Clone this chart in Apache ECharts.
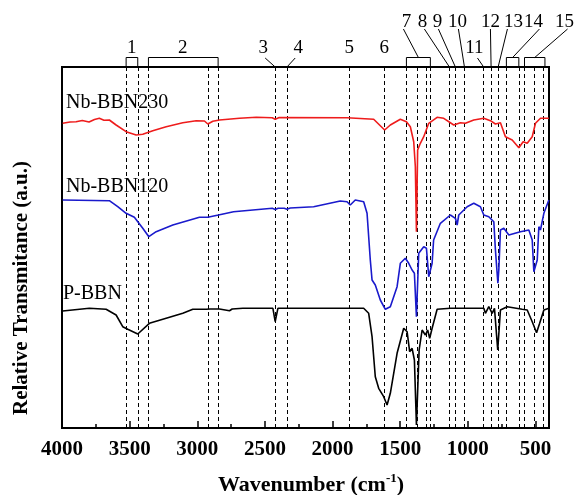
<!DOCTYPE html>
<html><head><meta charset="utf-8">
<script src="https://cdn.jsdelivr.net/npm/echarts@6/dist/echarts.min.js"></script>
<style>html,body{margin:0;padding:0;background:#fff}#c{width:582px;height:495px}</style>
</head><body><div id="c"></div>
<script>
// ---------- DATA ----------
const xTickLabels = [4000, 3500, 3000, 2500, 2000, 1500, 1000, 500];
const xMinorTicks = [3750, 3250, 2750, 2250, 1750, 1250, 750];
const seriesNames = ['Nb-BBN230', 'Nb-BBN120', 'P-BBN'];
const seriesColors = ['#ee1c1c', '#1a1acc', '#000000'];

// [wavenumber (cm-1), relative transmittance (a.u., offset curves)]
const nb230 = [[3995,304.7],[3940,306],[3896,306.3],[3850,307.5],[3800,306],[3760,308.5],[3724,309.7],[3690,307.8],[3650,308],[3600,303],[3526,296.3],[3452,293],[3403,293.7],[3329,297.3],[3230,301.3],[3107,305.3],[3008,307.3],[2947,307],[2922,304],[2885,306.7],[2836,308],[2688,309.7],[2564,310.7],[2446,310.3],[2424,308.7],[2394,310.5],[1893,310.3],[1696,308.7],[1615,298],[1573,303],[1499,308.7],[1454,306.3],[1425,301.3],[1400,286.3],[1388,261.3],[1380,196.3],[1371,278],[1351,284.7],[1326,291.3],[1289,304.7],[1227,310.7],[1178,309.7],[1104,303],[1055,305.3],[1018,304.7],[956,308],[882,309.7],[833,307.3],[796,304],[759,305.3],[722,291.3],[672,288],[623,280.3],[591,286.3],[561,284.7],[524,291.3],[500,304.7],[463,309.7],[401,309.7]];
const nb120 = [[3995,228],[3650,227.3],[3588,221.3],[3526,214.7],[3465,210.7],[3403,199.7],[3358,191.3],[3304,196.3],[3181,203],[2984,210.7],[2922,210.7],[2905,211.3],[2843,213],[2732,216.3],[2446,219.7],[2424,218.5],[2402,219.7],[2357,219.7],[2337,218.7],[2313,220],[2140,221.3],[1943,227],[1893,226.3],[1869,223],[1832,228],[1770,226.3],[1745,214.7],[1721,168],[1708,148],[1684,143],[1647,128],[1610,118.7],[1573,121.3],[1523,141.3],[1499,164.7],[1462,169.7],[1437,164.7],[1412,158],[1395,154.7],[1380,111.3],[1363,174.7],[1326,181.3],[1306,179.7],[1289,151.3],[1264,164.7],[1253,188],[1203,204.7],[1129,213],[1092,209.7],[1079,203],[1067,213],[1005,221.3],[956,224.7],[907,221.3],[882,213],[845,211.3],[808,206.3],[796,178],[778,144.7],[771,158],[759,198],[734,199.7],[697,193],[611,196.3],[549,198],[524,188],[512,156.3],[487,168],[475,201.3],[463,198],[438,214.7],[401,228]];
const pbbn = [[3995,117],[3798,119.7],[3674,118.7],[3600,113],[3551,101.3],[3514,98.7],[3440,94],[3354,104.7],[3230,109.7],[3107,114.7],[3033,118.7],[2934,118.7],[2922,117.3],[2905,119],[2836,119],[2762,117.3],[2742,119],[2663,119.7],[2441,119.7],[2424,106.3],[2404,119.7],[1898,119.7],[1770,119.7],[1733,114.7],[1708,91.3],[1684,51.3],[1659,39.7],[1622,31.3],[1597,23],[1573,34.7],[1523,74.7],[1474,99.7],[1449,96.3],[1430,76.3],[1412,79.7],[1395,68],[1380,3],[1360,78],[1338,98],[1314,93],[1297,98],[1282,89.7],[1264,99.7],[1227,118.7],[1129,119.7],[882,119.7],[870,114.7],[845,121.3],[820,114.7],[803,119.7],[779,78],[759,118],[709,121.3],[598,118.7],[561,118],[524,106.3],[492,95.3],[469,104.7],[438,118],[401,119.7]];

// dashed reference lines (cm-1)
const peakLines = [3526,3440,3361,2922,2846,2424,2337,1874,1615,1454,1375,1306,1277,1136,1092,1025,883,828,776,715,623,581,507,446];
// numbered peak groups: [from, to] (single line when equal)
const peakNumbers = ['1','2','3','4','5','6','7','8','9','10','11','12','13','14','15'];
const peakGroups = [[3526,3440],[3361,2846],[2424,2424],[2337,2337],[1874,1874],[1615,1615],[1454,1277],[1136,1136],[1092,1092],[1025,1025],[883,883],[828,828],[776,776],[715,623],[581,430]];

// ---------- LAYOUT (annotation label placement) ----------
const labelLayout = [
  {wn:3484,row:0,lead:null},{wn:3108,row:0,lead:null},{wn:2513,row:0,lead:2},{wn:2254,row:0,lead:-3},
  {wn:1876,row:0,lead:null},{wn:1617,row:0,lead:null},{wn:1454,row:1,lead:-3},{wn:1336,row:1,lead:2},
  {wn:1225,row:1,lead:1},{wn:1077,row:1,lead:1},{wn:951,row:0,lead:3},{wn:833,row:1,lead:0},
  {wn:663,row:1,lead:-6},{wn:515,row:1,lead:6},{wn:285,row:1,lead:3}
];

const YMAX = 361;
const serif = '"Liberation Serif","Times New Roman",serif';
const chart = echarts.init(document.getElementById('c'), null, {renderer:'canvas'});

function renderAnno(params, api) {
  const i = api.value(2);
  const a = api.coord([api.value(0), YMAX]);
  const b = api.coord([api.value(1), YMAX]);
  const top = a[1];
  const boxTop = top - 9.5;
  const lay = labelLayout[i];
  const lx = api.coord([lay.wn, YMAX])[0];
  const ly = lay.row === 0 ? top - 19 : top - 45;
  const children = [];
  const isBox = api.value(0) !== api.value(1);
  if (isBox) {
    children.push({type:'polyline', shape:{points:[[a[0],top],[a[0],boxTop],[b[0],boxTop],[b[0],top]]},
      style:{stroke:'#000', fill:null, lineWidth:1}});
  }
  children.push({type:'text', x:lx, y:ly, style:{text:peakNumbers[i], font:'19px ' + serif, fill:'#000',
    align:'center', verticalAlign:'middle', textAlign:'center', textVerticalAlign:'middle'}});
  if (lay.lead !== null) {
    const sx = lx + lay.lead;
    const sy = lay.row === 0 ? top - 9 : top - 38;
    const ex = isBox ? (a[0] + b[0]) / 2 : a[0];
    const ey = isBox ? boxTop : top;
    children.push({type:'line', shape:{x1:sx, y1:sy, x2:ex, y2:ey}, style:{stroke:'#000', lineWidth:1}});
  }
  return {type:'group', children};
}

const lineSeries = [nb230, nb120, pbbn].map((d, k) => ({
  type:'line', name:seriesNames[k], data:d, xAxisIndex:0, yAxisIndex:0,
  showSymbol:false, symbol:'none', smooth:false, z:3,
  lineStyle:{color:seriesColors[k], width:1.6}
}));
lineSeries[0].markLine = {
  silent:true, symbol:['none','none'], label:{show:false}, z:1,
  lineStyle:{color:'#000', type:[4,3], width:1},
  data: peakLines.map(v => ({xAxis:v}))
};

chart.setOption({
  animation:false,
  backgroundColor:'#fff',
  grid:{left:62, right:33, top:67, bottom:67, show:true, borderColor:'#000', borderWidth:2, backgroundColor:'transparent'},
  xAxis:[{
    type:'value', min:400, max:4000, inverse:true, position:'bottom',
    axisLine:{show:false}, splitLine:{show:false},
    axisTick:{show:true, inside:true, length:7, customValues:xTickLabels, lineStyle:{color:'#000', width:1.5}},
    axisLabel:{show:true, customValues:xTickLabels, formatter:(v) => String(v), margin:11, color:'#000', fontFamily:serif, fontWeight:'bold', fontSize:21}
  },{
    type:'value', min:400, max:4000, inverse:true, position:'bottom',
    axisLine:{show:false}, splitLine:{show:false}, axisLabel:{show:false},
    axisTick:{show:true, inside:true, length:4, customValues:xMinorTicks, lineStyle:{color:'#000', width:1.5}}
  }],
  yAxis:{type:'value', min:0, max:YMAX, axisLine:{show:false}, axisTick:{show:false}, axisLabel:{show:false}, splitLine:{show:false}},
  series: lineSeries.concat([{
    type:'custom', xAxisIndex:0, yAxisIndex:0, clip:false, silent:true, z:5,
    renderItem: renderAnno,
    encode:{x:[0,1], y:2},
    data: peakGroups.map((g, i) => [g[0], g[1], i])
  }]),
  graphic:[
    {type:'text', x:66, y:103, style:{text:seriesNames[0], font:'20px ' + serif, fill:'#000', verticalAlign:'middle', textVerticalAlign:'middle'}},
    {type:'text', x:66, y:187, style:{text:seriesNames[1], font:'20px ' + serif, fill:'#000', verticalAlign:'middle', textVerticalAlign:'middle'}},
    {type:'text', x:63, y:293.5, style:{text:seriesNames[2], font:'20px ' + serif, fill:'#000', verticalAlign:'middle', textVerticalAlign:'middle'}},
    {type:'text', x:311, y:485, style:{
      text:'{a|Wavenumber (cm}{s|-1}{a|)}', align:'center', verticalAlign:'middle', textAlign:'center', textVerticalAlign:'middle',
      rich:{a:{fontFamily:serif, fontWeight:'bold', fontSize:22, lineHeight:25, fill:'#000', color:'#000'},
            s:{fontFamily:serif, fontWeight:'bold', fontSize:13, lineHeight:25, verticalAlign:'top', fill:'#000', color:'#000'}}}},
    {type:'text', x:22, y:288, rotation:Math.PI/2, style:{text:'Relative Transmitance (a.u.)', font:'bold 21px ' + serif, fill:'#000',
      align:'center', verticalAlign:'middle', textAlign:'center', textVerticalAlign:'middle'}}
  ]
});
</script></body></html>
